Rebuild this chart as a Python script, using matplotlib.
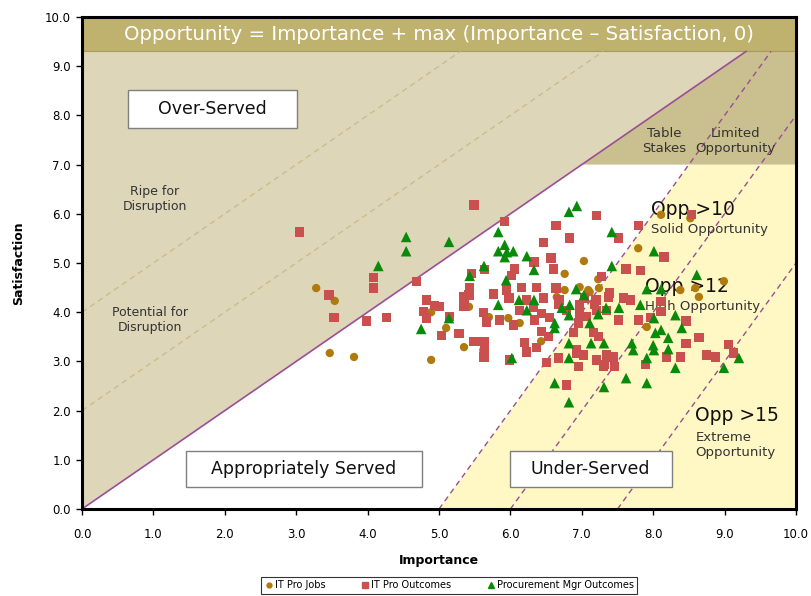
import matplotlib
matplotlib.use("Agg")
import matplotlib.pyplot as plt
from matplotlib.patches import Polygon, Rectangle
from matplotlib.lines import Line2D

# ---------------- data ----------------
jobs_imp = [3.28, 3.54, 3.47, 3.81, 4.89, 5.35, 4.89, 5.10, 5.42, 5.62, 7.03, 6.76, 7.23, 7.24, 6.76, 7.09,
            6.97, 6.65, 5.70, 5.97, 7.79, 6.13, 6.43, 7.91, 8.11, 8.52, 8.99, 8.38, 8.59, 8.64, 7.11]
jobs_sat = [4.49, 4.23, 3.17, 3.09, 3.03, 3.29, 4.00, 3.68, 4.11, 3.23, 5.04, 4.78, 4.67, 4.49, 4.45, 4.45,
            4.51, 4.31, 3.90, 3.88, 5.30, 3.78, 3.41, 3.70, 5.98, 5.91, 4.63, 4.45, 4.49, 4.31, 4.41]

out_imp = [3.05, 4.08, 4.08, 3.46, 3.53, 3.99, 4.27, 4.68, 4.82, 4.78, 4.82, 4.94, 5.01, 5.15, 5.04, 5.28,
           5.35, 5.35, 5.43, 5.49, 5.49, 5.63, 5.63, 5.64, 5.42, 5.62, 5.67, 5.46, 5.64, 5.92, 6.64, 7.21,
           7.79, 6.46, 6.83, 7.51, 6.57, 6.33, 6.60, 6.06, 6.02, 7.28, 7.62, 7.82, 6.16, 6.37, 6.64, 5.95,
           5.76, 5.98, 6.22, 6.46, 6.68, 7.20, 7.39, 7.58, 7.68, 5.85, 6.04, 6.13, 6.32, 6.44, 6.55, 6.34,
           6.67, 6.79, 6.97, 7.07, 7.21, 7.35, 7.51, 7.79, 6.95, 6.44, 6.53, 6.88, 7.16, 7.23, 6.20, 6.23,
           6.37, 5.99, 6.51, 6.67, 6.93, 6.95, 7.21, 7.32, 7.44, 7.46, 7.89, 6.79, 8.54, 8.15, 8.11, 8.11,
           7.96, 8.46, 8.64, 8.46, 9.06, 9.13, 8.75, 8.87, 8.38, 8.19, 6.97, 7.18, 6.93, 7.02, 7.35, 7.30,
           7.37, 7.04]
out_sat = [5.63, 4.70, 4.49, 4.35, 3.90, 3.82, 3.90, 4.63, 4.25, 4.02, 3.88, 4.13, 4.11, 3.92, 3.52, 3.56,
           4.31, 4.11, 4.51, 6.18, 3.41, 3.41, 3.09, 3.29, 4.35, 4.00, 3.80, 4.78, 4.86, 5.85, 5.77, 5.96,
           5.77, 5.41, 5.51, 5.51, 5.10, 5.02, 4.88, 4.88, 4.74, 4.72, 4.88, 4.84, 4.51, 4.51, 4.49, 4.45,
           4.37, 4.29, 4.25, 4.29, 4.25, 4.25, 4.39, 4.29, 4.25, 3.84, 3.74, 4.04, 4.09, 3.98, 3.90, 3.84,
           4.15, 4.04, 3.98, 3.92, 4.04, 4.04, 3.84, 3.84, 3.78, 3.60, 3.50, 3.58, 3.58, 3.50, 3.39, 3.19,
           3.29, 3.03, 2.97, 3.07, 3.17, 2.89, 3.03, 2.93, 3.09, 2.89, 2.93, 2.52, 5.98, 5.12, 4.21, 4.02,
           3.90, 3.82, 3.48, 3.37, 3.35, 3.17, 3.13, 3.09, 3.09, 3.09, 4.15, 4.15, 3.23, 3.13, 3.13, 2.89,
           4.31, 4.29]

proc_imp = [4.54, 4.54, 4.15, 5.14, 4.75, 5.14, 5.43, 5.63, 6.93, 6.82, 5.83, 5.92, 5.83, 5.95, 6.04, 5.92,
            6.23, 7.42, 6.33, 5.94, 7.42, 5.83, 6.12, 6.33, 6.23, 6.92, 7.03, 6.83, 6.72, 6.82, 6.62, 6.62,
            7.23, 7.34, 7.52, 7.82, 7.11, 6.82, 7.13, 7.31, 7.70, 8.00, 6.82, 7.91, 6.02, 6.62, 7.31, 7.62,
            7.91, 6.82, 8.01, 8.61, 7.91, 8.11, 8.31, 8.01, 8.11, 8.40, 8.21, 8.01, 8.21, 8.31, 8.99, 9.20,
            7.72, 8.03]
proc_sat = [5.53, 5.24, 4.94, 5.43, 3.66, 3.88, 4.74, 4.94, 6.16, 6.04, 5.63, 5.37, 5.24, 5.22, 5.24, 5.12,
            5.14, 5.63, 4.86, 4.65, 4.94, 4.15, 4.25, 4.25, 4.04, 4.47, 4.35, 4.15, 4.09, 3.94, 3.78, 3.68,
            3.96, 4.09, 4.09, 4.15, 3.78, 3.37, 3.37, 3.37, 3.37, 3.33, 3.07, 3.07, 3.07, 2.56, 2.48, 2.66,
            2.56, 2.17, 5.24, 4.76, 4.47, 4.47, 3.94, 3.88, 3.64, 3.68, 3.48, 3.23, 3.25, 2.87, 2.87, 3.07,
            3.23, 3.58]

series_names = ["IT Pro Jobs", "IT Pro Outcomes", "Procurement Mgr Outcomes"]
tick_values = [0, 1, 2, 3, 4, 5, 6, 7, 8, 9, 10]

# ---------------- styling ----------------
C_BANNER = "#BFB26F"
C_OVER = "#DDD6B9"
C_TABLE = "#CABF8E"
C_YELLOW = "#FFF8C4"
C_PURPLE = "#9A4E96"
C_TANDASH = "#C9BD8C"
C_JOBS = "#B07A0C"
C_OUT = "#C9504F"
C_PROC = "#0A8A0A"

plt.rcParams['font.family'] = ['DejaVu Sans']

fig = plt.figure(figsize=(8.11, 5.96), dpi=100)
ax = fig.add_axes([82 / 811, 1 - 509 / 596, 714 / 811, 492 / 596])
ax.set_xlim(0, 10)
ax.set_ylim(0, 10)

TOP = 9.3
# regions
ax.add_patch(Polygon([(0, 0), (TOP, TOP), (0, TOP)], closed=True, fc=C_OVER, ec='none', zorder=0))
ax.add_patch(Polygon([(7, 7), (TOP, TOP), (10, TOP), (10, 7)], closed=True, fc=C_TABLE, ec='none', zorder=0))
ax.add_patch(Polygon([(5, 0), (10, 0), (10, 7), (8.5, 7)], closed=True, fc=C_YELLOW, ec='none', zorder=0))
ax.add_patch(Rectangle((0, TOP), 10, 10 - TOP, fc=C_BANNER, ec='none', zorder=0))
ax.axhline(TOP, color="#A89A5A", lw=0.8, zorder=1)

# lines
ax.plot([0, TOP], [0, TOP], color=C_PURPLE, lw=1.2, zorder=1)
for c, x1 in [(10, (TOP + 10) / 2), (12, 10), (15, 10)]:
    xs = [c / 2, x1]
    ax.plot(xs, [2 * x - c for x in xs], color=C_PURPLE, lw=1.0, ls=(0, (4, 3)), zorder=1)
for c in [4, 2]:
    ax.plot([0, TOP - c], [c, TOP], color=C_TANDASH, lw=1.0, ls=(0, (4, 3)), zorder=1)

# labels in regions
ax.text(5.0, 9.65, "Opportunity = Importance + max (Importance \u2013 Satisfaction, 0)",
        color="white", fontsize=14.2, ha='center', va='center', zorder=2)
tc = "#333333"
ax.text(1.02, 6.30, "Ripe for\nDisruption", fontsize=9, color=tc, ha='center', va='center', zorder=2)
ax.text(0.95, 3.84, "Potential for\nDisruption", fontsize=9, color=tc, ha='center', va='center', zorder=2)
ax.text(8.15, 7.48, "Table\nStakes", fontsize=9.5, color=tc, ha='center', va='center', zorder=2)
ax.text(9.15, 7.48, "Limited\nOpportunity", fontsize=9.5, color=tc, ha='center', va='center', zorder=2)
ax.text(7.97, 6.08, "Opp >10", fontsize=13.5, color="#111111", ha='left', va='center', zorder=2)
ax.text(7.97, 5.68, "Solid Opportunity", fontsize=9.5, color=tc, ha='left', va='center', zorder=2)
ax.text(7.89, 4.53, "Opp >12", fontsize=13.5, color="#111111", ha='left', va='center', zorder=2)
ax.text(7.89, 4.12, "High Opportunity", fontsize=9.5, color=tc, ha='left', va='center', zorder=2)
ax.text(8.59, 1.91, "Opp >15", fontsize=13.5, color="#111111", ha='left', va='center', zorder=2)
ax.text(8.59, 1.30, "Extreme\nOpportunity", fontsize=9.5, color=tc, ha='left', va='center', zorder=2)

# boxed labels
boxes = [("Over-Served", 0.64, 7.74, 3.01, 8.52),
         ("Appropriately Served", 1.46, 0.45, 4.76, 1.18),
         ("Under-Served", 5.99, 0.45, 8.26, 1.18)]
for label, x0, y0, x1, y1 in boxes:
    ax.add_patch(Rectangle((x0, y0), x1 - x0, y1 - y0, fc='white', ec='#7F7F7F', lw=1.0, zorder=4))
    ax.text((x0 + x1) / 2, (y0 + y1) / 2, label, fontsize=12.5, color="#111111",
            ha='center', va='center', zorder=5)

# points
ax.scatter(jobs_imp, jobs_sat, s=36, marker='o', c=C_JOBS, edgecolors='none', zorder=3, label=series_names[0])
ax.scatter(out_imp, out_sat, s=44, marker='s', c=C_OUT, edgecolors='none', zorder=3, label=series_names[1])
ax.scatter(proc_imp, proc_sat, s=58, marker='^', c=C_PROC, edgecolors='none', zorder=3, label=series_names[2])

# axes
ax.set_xticks(tick_values)
ax.set_yticks(tick_values)
ax.set_xticklabels([f"{v:.1f}" for v in tick_values], fontsize=8.5)
ax.set_yticklabels([f"{v:.1f}" for v in tick_values], fontsize=8.5)
ax.tick_params(direction='out', length=4, width=1, pad=10)
ax.tick_params(axis='y', pad=4)
for sp in ax.spines.values():
    sp.set_color('black')
    sp.set_linewidth(2.2)
ax.set_xlabel("Importance", fontsize=9, fontweight='bold', labelpad=9)
ax.set_ylabel("Satisfaction", fontsize=9, fontweight='bold', labelpad=14)

handles = [Line2D([], [], ls='none', marker='o', color=C_JOBS, markersize=3.5),
           Line2D([], [], ls='none', marker='s', color=C_OUT, markersize=4),
           Line2D([], [], ls='none', marker='^', color=C_PROC, markersize=4)]
leg = fig.legend(handles, series_names, loc='lower center', bbox_to_anchor=(449 / 811, -0.004),
                 ncol=3, fontsize=7, frameon=True, fancybox=False, edgecolor='black',
                 handletextpad=0.1, columnspacing=3.6, handlelength=1.0, borderpad=0.35)
leg.get_frame().set_linewidth(0.8)

fig.savefig("out.png", dpi=100)
